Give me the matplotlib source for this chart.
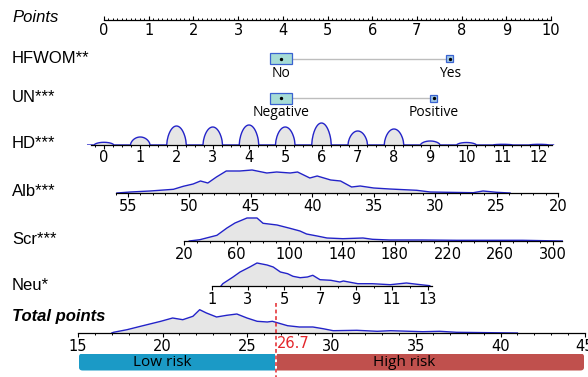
import numpy as np
import matplotlib.pyplot as plt
from matplotlib.patches import Rectangle, FancyBboxPatch

plt.rcParams['font.family'] = ['Liberation Sans', 'DejaVu Sans']

# ---- data ----
points_ticks = list(range(0, 11))

hfwom_levels = ['No', 'Yes']
hfwom_points = [3.95, 7.74]
un_levels = ['Negative', 'Positive']
un_points = [3.95, 7.38]

hd_levels = list(range(0, 13))
hd_height = [2.7, 8, 19, 18, 20, 18, 22, 14, 16, 4, 2.5, 0.7, 0.7]

alb_ticks = [55, 50, 45, 40, 35, 30, 25, 20]
alb_vals = [55.9, 54.8, 53.2, 51.3, 50.5, 49.7, 49.1, 48.5, 47.8, 47.0, 45.9, 44.9,
            43.7, 42.9, 41.8, 41.2, 40.2, 39.6, 38.5, 37.7, 36.8, 36.1, 35.0, 33.7,
            31.5, 30.4, 29.0, 26.9, 26.1, 25.0, 23.9]
alb_height = [0, 1, 2, 3.7, 6.7, 9, 12, 10, 16, 22, 22, 23, 20, 21, 20, 21, 15, 17,
              13, 12, 6, 7, 5, 4, 2.7, 1, 0.7, 0.3, 2, 0.7, 0]

scr_ticks = [20, 60, 100, 140, 180, 220, 260, 300]
scr_vals = [24, 32, 45, 52.6, 58.7, 67.8, 75.4, 80, 90.6, 100.4, 108, 113, 121,
            128.5, 140.6, 155.8, 163, 176, 201, 227, 252, 277, 307]
scr_height = [0, 1.3, 5.7, 13, 18, 23, 23, 17.7, 16, 12.7, 10, 7, 5, 3, 2.3, 3,
              1.7, 1, 1, 0.7, 0.7, 0.7, 0]

neu_ticks = [1, 3, 5, 7, 9, 11, 13]
neu_vals = [1.5, 1.6, 2.17, 2.56, 3.1, 3.5, 4.06, 4.4, 4.8, 5.2, 5.5, 5.9, 6.3,
            6.6, 7.0, 7.6, 8.1, 8.3, 9.1, 9.9, 10.9, 11.8, 12.4, 13.1]
neu_height = [0, 2.3, 9, 14, 19, 23, 21, 19, 14, 12.3, 9.7, 8.3, 9, 10.7, 6.3, 5.7,
              4, 5, 2.3, 2.3, 1.3, 3, 1.7, 0.3]

total_ticks = [15, 20, 25, 30, 35, 40, 45]
total_vals = [17.0, 17.1, 17.9, 18.7, 19.9, 20.6, 21.2, 21.8, 22.2, 22.6, 23.2,
              23.8, 24.4, 25.0, 25.6, 26.2, 26.5, 27.4, 28.1, 28.9, 29.5, 30.1,
              31.5, 32.7, 33.5, 35.4, 36.4, 37.4, 39.4, 41.0]
total_height = [0, 0.7, 3.3, 6.7, 11.7, 15, 13.3, 16.7, 23.3, 20, 16, 17.7, 19, 15,
                11.7, 11, 11.7, 7.3, 6, 6, 4.3, 2.3, 2.7, 1.7, 2.3, 1.3, 1.7, 0.7,
                0.3, 0]

cutoff = 26.7
risk_labels = ['Low risk', 'High risk']

# ---- style ----
LINE = '#2323c8'
FILL = '#e6e6e6'
LOW_COL = '#1b9ac6'
HIGH_COL = '#c0504d'
TICK_FONT = 'DejaVu Sans'
W, H = 588, 377

fig = plt.figure(figsize=(W / 100, H / 100), dpi=100)


def make_row(y_px, h_px, ref, centered=False):
    """Axes across the full width; x maps variable values onto pixel columns."""
    (va, pa), (vb, pb) = ref
    k = (vb - va) / (pb - pa)
    if centered:
        ax = fig.add_axes([0, (H - y_px - h_px / 2) / H, 1, h_px / H])
        ax.set_ylim(-h_px / 2, h_px / 2)
    else:
        ax = fig.add_axes([0, (H - y_px) / H, 1, h_px / H])
        ax.set_ylim(0, h_px)
    ax.set_xlim(va - pa * k, va + (W - pa) * k)
    ax.patch.set_visible(False)
    for s in ['top', 'left', 'right']:
        ax.spines[s].set_visible(False)
    ax.set_yticks([])
    ax.spines['bottom'].set_linewidth(0.9)
    if centered:
        ax.spines['bottom'].set_visible(False)
        ax.set_xticks([])
    ax.tick_params(axis='x', width=0.8, colors='black')
    return ax


def scale_ticks(ax, major, lo, hi, minor_step, direction='out', pad=1.0):
    ax.spines['bottom'].set_bounds(lo, hi)
    ax.set_xticks(major)
    ax.set_xticklabels([str(m) for m in major], family=TICK_FONT, fontsize=10.5)
    a, b = sorted([lo, hi])
    ax.set_xticks(np.arange(np.ceil(a / minor_step) * minor_step, b + 1e-9, minor_step), minor=True)
    ax.tick_params(axis='x', which='major', direction=direction, length=3, pad=pad)
    ax.tick_params(axis='x', which='minor', direction=direction, length=1.6, width=0.7)


def density(ax, x, y):
    ax.fill_between(x, 0, y, color=FILL, lw=0, zorder=1)
    ax.plot(x, y, color=LINE, lw=1.0, zorder=2)


def row_label(y_px, text, **kw):
    fig.text(12 / W, 1 - y_px / H, text, ha='left', va='center', fontsize=12, **kw)


# Points
ax = make_row(20, 14, ((0, 104), (10, 551)))
scale_ticks(ax, points_ticks, 0, 10, 0.1, direction='in', pad=2.5)
row_label(18, 'Points', style='italic')


# categorical rows
def category_row(y_px, levels, pts, label):
    ax = make_row(y_px, 20, ((0, 104), (10, 551)), centered=True)
    ax.plot(pts, [0, 0], color='#bdbdbd', lw=1, zorder=1)
    big_w, small_w = 22 / 44.7, 7 / 44.7
    ax.add_patch(Rectangle((pts[0] - big_w / 2, -5.5), big_w, 11, facecolor='#a6dcd6',
                           edgecolor='#3a62d0', lw=0.9, zorder=2))
    ax.add_patch(Rectangle((pts[1] - small_w / 2, -3.5), small_w, 7, facecolor='#a2c9e6',
                           edgecolor='#3a62d0', lw=0.9, zorder=2))
    ax.scatter(pts, [0, 0], s=2, color='black', zorder=3)
    for p, lev in zip(pts, levels):
        ax.text(p, -7.5, lev, ha='center', va='top', fontsize=10, family='Open Sans')
    row_label(y_px, label)


category_row(58.5, hfwom_levels, hfwom_points, 'HFWOM**')
category_row(98, un_levels, un_points, 'UN***')

# HD: one arch per observed level
ax = make_row(145, 28, ((0, 104), (12, 539)))
scale_ticks(ax, hd_levels, -0.35, 12.35, 0.25, pad=0.5)
half = 0.27
hx, hy = [-0.45], [0]
for lev, h in zip(hd_levels, hd_height):
    t = np.linspace(-1, 1, 41)
    hx.extend(lev + half * t)
    hy.extend(h * (1 - t ** 2) ** 0.6)
hx.append(12.4)
hy.append(0)
density(ax, hx, hy)
row_label(143, 'HD***')

# Alb
ax = make_row(193, 28, ((55, 128), (20, 558)))
scale_ticks(ax, alb_ticks, 56, 20, 1)
density(ax, alb_vals, alb_height)
row_label(192, 'Alb***')

# Scr
ax = make_row(241, 28, ((20, 184), (300, 553)))
scale_ticks(ax, scr_ticks, 20, 307, 10)
density(ax, scr_vals, scr_height)
row_label(240, 'Scr***')

# Neu
ax = make_row(286, 28, ((1, 212), (13, 428)))
scale_ticks(ax, neu_ticks, 1, 13.2, 1)
density(ax, neu_vals, neu_height)
row_label(285, 'Neu*')

# Total points
total_ref = ((15, 78), (45, 585))
ax = make_row(333, 30, total_ref)
scale_ticks(ax, total_ticks, 15, 45, 1)
density(ax, total_vals, total_height)
ax.plot([cutoff, cutoff], [30, -44], color='#e3262b', lw=1.1, ls=(0, (2.5, 1.8)),
        clip_on=False, zorder=5)
ax.text(cutoff + 0.05, -3.2, f'{cutoff}', color='#e3262b', fontsize=10.5,
        family=TICK_FONT, ha='left', va='top')
row_label(317, 'Total points', style='italic', weight='bold')

# risk bands: square bars clipped by one rounded outline
px_per_unit = 16.9
rax = make_row(371, 18, total_ref)
rax.set_ylim(0, 18 / px_per_unit)
rax.spines['bottom'].set_visible(False)
rax.set_xticks([])
bar_y, bar_h = 0.5 / px_per_unit, 17 / px_per_unit
lo, hi = total_ticks[0] + 0.05, total_ticks[-1] - 0.05
outline = FancyBboxPatch((lo, bar_y), hi - lo, bar_h,
                         boxstyle='round,pad=0,rounding_size=0.22',
                         facecolor='none', edgecolor='none', transform=rax.transData)
bars = rax.barh([bar_y + bar_h / 2] * 2, [cutoff - 0.05 - lo, hi - cutoff - 0.05],
                height=bar_h, left=[lo, cutoff + 0.05], color=[LOW_COL, HIGH_COL])
for b in bars:
    b.set_clip_path(outline)
rax.set_xlim(ax.get_xlim())
rax.set_ylim(0, 18 / px_per_unit)
for xpos, lab in zip([20.0, 34.3], risk_labels):
    rax.text(xpos, bar_y + bar_h / 2, lab, ha='center', va='center', fontsize=11,
             family='Open Sans')

fig.savefig('out.png', dpi=100)
